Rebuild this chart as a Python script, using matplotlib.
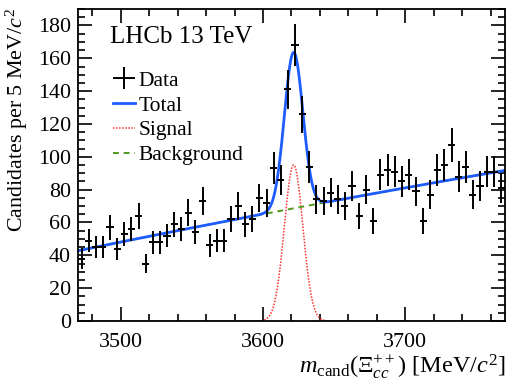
import numpy as np
import matplotlib

matplotlib.use("Agg")

import matplotlib.pyplot as plt
from matplotlib.ticker import MultipleLocator

plt.rcParams["font.family"] = ["Liberation Serif", "DejaVu Serif"]
plt.rcParams["mathtext.fontset"] = "custom"
plt.rcParams["mathtext.rm"] = "Liberation Serif"
plt.rcParams["mathtext.it"] = "Liberation Serif:italic"
plt.rcParams["mathtext.bf"] = "Liberation Serif:bold"

# ======================
# DATA
# ======================

bin_lo = 3470.0
bin_width = 5.0
counts = [38, 49, 45, 45, 57, 44, 53, 56, 64, 35,
          48, 48, 52, 59, 56, 66, 54, 73, 46, 49,
          49, 62, 70, 59, 62, 75, 72, 93, 86, 141,
          168, 126, 94, 74, 73, 78, 74, 70, 82, 64,
          80, 61, 89, 92, 91, 85, 89, 79, 61, 77,
          92, 95, 107, 88, 94, 77, 82, 91, 91, 81]

# fit model parameters
sig_mean = 3621.5
sig_sigma = 6.5
sig_peak = 95.0
bkg_coef = [42.8, 17.8, -0.5]   # a0 + a1*u + a2*u^2, u = (m - 3470)/100

x_min, x_max = 3470, 3770
y_max = 190

counts = np.array(counts, dtype=float)
centers = bin_lo + bin_width * (np.arange(len(counts)) + 0.5)
errors = np.sqrt(counts)


def background(m):
    u = (m - 3470.0) / 100.0
    return bkg_coef[0] + bkg_coef[1] * u + bkg_coef[2] * u ** 2


def signal(m):
    return sig_peak * np.exp(-0.5 * ((m - sig_mean) / sig_sigma) ** 2)


m = np.linspace(x_min, x_max, 1201)

# ======================
# PLOT
# ======================

fig = plt.figure(figsize=(5.15, 3.88), dpi=100)
ax = fig.add_axes([0.1515, 0.1727, 0.829, 0.804])

ax.plot(m, signal(m), color="#ff3030", linestyle=(0, (1, 1)), linewidth=1.1, label="Signal")
ax.plot(m, background(m), color="#4f9a1e", linestyle=(0, (3, 2.5)), linewidth=1.4, label="Background")
ax.plot(m, background(m) + signal(m), color="#1d5cff", linewidth=2.0, label="Total")
eb = ax.errorbar(centers, counts, yerr=errors, xerr=bin_width / 2, fmt="none",
                 ecolor="black", elinewidth=1.4, label="Data", zorder=5)

ax.set_xlim(x_min, x_max)
ax.set_ylim(0, y_max)

ax.xaxis.set_major_locator(MultipleLocator(100))
ax.xaxis.set_minor_locator(MultipleLocator(20))
ax.yaxis.set_major_locator(MultipleLocator(20))
ax.yaxis.set_minor_locator(MultipleLocator(5))
ax.tick_params(which="both", direction="in", top=True, right=True, labelsize=15.8, width=1.2)
ax.tick_params(which="major", length=10)
ax.tick_params(which="minor", length=5)
ax.tick_params(axis="x", pad=9)
ax.tick_params(axis="y", pad=5)
for sp in ax.spines.values():
    sp.set_linewidth(1.3)

ax.set_ylabel(r"Candidates per 5 MeV/$c^2$", fontsize=15.8)
ax.yaxis.set_label_coords(-0.112, 0.645)
ax.set_xlabel(r"$m_{\rm cand}(\mathit{Ξ}_{cc}^{++})$ [MeV/$c^2$]", fontsize=17.5, loc="right", labelpad=0)

ax.text(0.075, 0.91, "LHCb 13 TeV", transform=ax.transAxes, fontsize=18, va="center", ha="left")

handles, labels = ax.get_legend_handles_labels()
order = [labels.index(n) for n in ["Data", "Total", "Signal", "Background"]]
ax.legend([handles[i] for i in order], [labels[i] for i in order],
          loc="upper left", bbox_to_anchor=(0.062, 0.83), frameon=False,
          fontsize=15.5, handlelength=1.0, handletextpad=0.2, labelspacing=0.22,
          borderaxespad=0)

fig.savefig("out.png", dpi=100)
